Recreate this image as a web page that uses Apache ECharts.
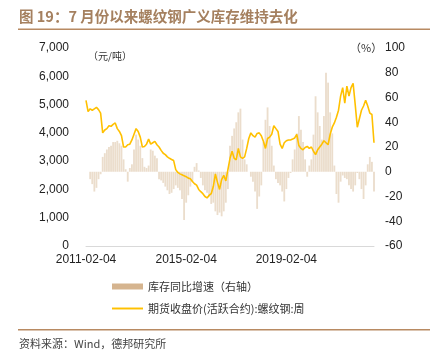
<!DOCTYPE html>
<html><head><meta charset="utf-8">
<script src="https://cdn.jsdelivr.net/npm/echarts@6/dist/echarts.min.js"></script>
<style>html,body{margin:0;padding:0;background:#fff}#c{width:435px;height:356px}</style>
</head><body><div id="c"></div>
<script>
// monthly sample dates, 2011-02-04 .. 2022-08-04
const startYear = 2011, startMonth = 2, nPoints = 139;
const dates = [];
for (let i = 0; i < nPoints; i++) {
  const t = startMonth - 1 + i;
  const y = startYear + Math.floor(t / 12), m = t % 12 + 1;
  dates.push(y + '-' + String(m).padStart(2, '0') + '-04');
}
const tickLabels = ['2011-02-04', '2015-02-04', '2019-02-04'];

// 期货收盘价(活跃合约):螺纹钢 (元/吨)
const price = [
5150,4750,4850,4800,4850,4900,4820,4700,4000,4100,
4150,4250,4230,4300,4350,4150,4050,3900,3500,3500,
3580,3600,3750,3950,4150,4050,3850,3500,3520,3600,
3780,3600,3650,3700,3580,3500,3380,3280,3230,3150,
3100,3060,3020,2700,2600,2550,2520,2480,2450,2400,
2380,2280,2200,2150,2000,1920,1850,1750,1700,1790,
1850,2100,2550,2250,2000,2350,2500,2300,2700,3100,
3350,3100,3050,3450,3150,3100,3150,3450,3800,4000,
3900,3850,3980,4000,3900,3700,3450,3800,3850,3950,
4250,4150,4050,3600,3450,3650,3720,3750,3750,3780,
3820,3950,3550,3450,3400,3480,3520,3450,3500,3350,
3230,3400,3500,3600,3720,3650,3580,3950,4200,4350,
4550,4800,5300,5600,5050,5650,5300,5600,5750,5000,
4200,4500,4800,4950,5150,4950,4700,4650,3650
];

// 库存同比增速 (%), right axis
const inventoryYoY = [
null,null,-6,-10,-16,-13,-6,-2,12,15,
18,20,21,24,24,25,23,21,10,2,
-8,3,6,18,30,26,21,11,4,3,
5,18,17,13,11,-6,-7,-9,-12,-15,
-18,-17,-14,-11,-13,-15,-22,-39,-25,-19,
-12,-8,4,7,1,-5,-11,-15,-17,-20,
-26,-25,-32,-35,-33,-36,-32,-25,-14,21,
29,35,40,48,51,26,10,6,0,-4,
-8,-16,-30,-20,-11,24,42,52,37,21,
5,-6,-9,-11,-16,-24,-14,-5,-1,10,
18,31,45,34,24,10,-4,5,10,30,
61,48,37,26,45,80,72,48,31,5,
-18,-25,-8,-3,-5,-6,-11,-14,-16,-11,
-1,-6,-14,-22,-11,6,12,8,-16
];

const cjk = '"Noto Sans CJK SC", sans-serif';
const lat = '"Liberation Sans", Arial, sans-serif';
const chart = echarts.init(document.getElementById('c'), null, {renderer: 'canvas'});
chart.setOption({
  animation: false,
  backgroundColor: '#fff',
  grid: {left: 86, right: 61, top: 48, bottom: 110, containLabel: false},
  xAxis: {
    type: 'category', data: dates, boundaryGap: false,
    axisLine: {lineStyle: {color: '#D9D9D9', width: 1}},
    axisTick: {show: false},
    axisLabel: {
      interval: (i, v) => tickLabels.indexOf(v) >= 0,
      color: '#222', fontSize: 12, fontFamily: lat, margin: 8,
      showMinLabel: true
    },
    splitLine: {show: false}
  },
  yAxis: [
    {type: 'value', min: 0, max: 7000, interval: 1000, position: 'left',
     axisLine: {show: false}, axisTick: {show: false}, splitLine: {show: false},
     axisLabel: {color: '#222', fontSize: 12, fontFamily: lat, margin: 17,
       formatter: v => v.toLocaleString('en-US')}},
    {type: 'value', min: -60, max: 100, interval: 20, position: 'right',
     axisLine: {show: false}, axisTick: {show: false}, splitLine: {show: false},
     axisLabel: {color: '#222', fontSize: 12, fontFamily: lat, margin: 11}}
  ],
  legend: [
    {data: [{name: '库存同比增速（右轴）', icon: 'rect', itemStyle: {color: '#D5B48F', opacity: 1}}],
     orient: 'vertical', left: 112, top: 281, padding: 0,
     itemWidth: 31, itemHeight: 6, itemGap: 8,
     textStyle: {fontSize: 11, fontFamily: cjk, color: '#333'}},
    {data: [{name: '期货收盘价(活跃合约):螺纹钢:周', icon: 'path://M0 0H32V2H0Z'}],
     orient: 'vertical', left: 112, top: 303, padding: 0,
     itemWidth: 31, itemHeight: 2,
     itemStyle: {color: '#FFC000'},
     textStyle: {fontSize: 11, fontFamily: cjk, color: '#333'}}
  ],
  series: [
    {name: '库存同比增速（右轴）', type: 'bar', yAxisIndex: 1, data: inventoryYoY,
     barCategoryGap: '12%', itemStyle: {color: '#EBDDCC'}},
    {name: '期货收盘价(活跃合约):螺纹钢:周', type: 'line', yAxisIndex: 0, data: price,
     symbol: 'none', lineStyle: {color: '#FFC000', width: 1.6}, itemStyle: {color: '#FFC000'}}
  ],
  graphic: [
    {type: 'text', left: 19, top: 9, style: {text: '图 19：7 月份以来螺纹钢广义库存维持去化',
      font: 'bold 14.5px ' + cjk, fill: '#A5805F'}},
    {type: 'rect', shape: {x: 18, y: 28.5, width: 412, height: 1.5}, style: {fill: '#B88A62'}},
    {type: 'text', left: 88, top: 51, style: {text: '（元/吨）', font: '10px ' + cjk, fill: '#333'}},
    {type: 'text', left: 350, top: 42, style: {text: '（%）', font: '11px ' + cjk, fill: '#333'}},
    {type: 'rect', shape: {x: 18, y: 329, width: 412, height: 1.5}, style: {fill: '#B88A62'}},
    {type: 'text', left: 19, top: 338, style: {text: '资料来源：Wind，德邦研究所', font: '11px ' + cjk, fill: '#444'}}
  ]
});
</script></body></html>
